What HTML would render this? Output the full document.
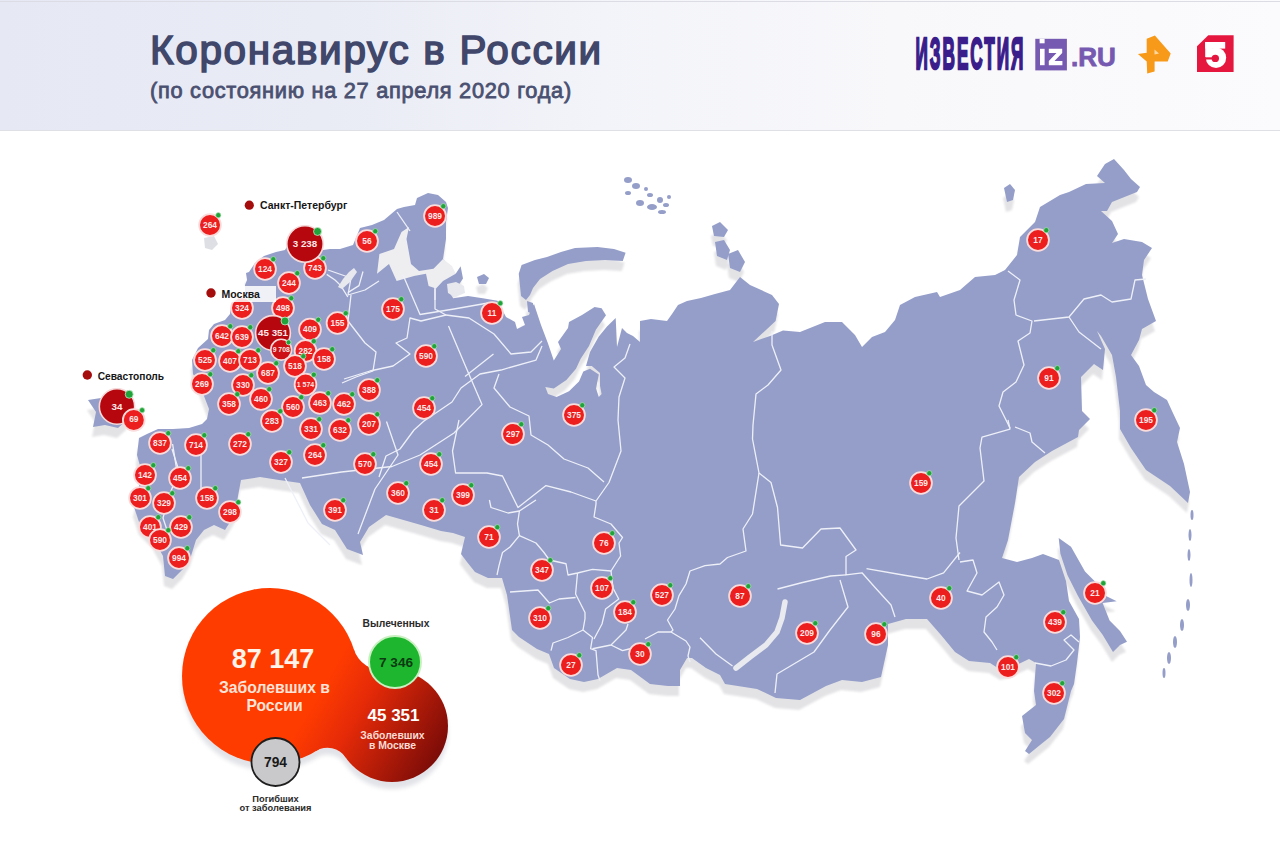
<!DOCTYPE html>
<html><head><meta charset="utf-8">
<style>
html,body{margin:0;padding:0;}
body{width:1280px;height:853px;overflow:hidden;position:relative;background:#fff;font-family:"Liberation Sans",sans-serif;}
#hdr{position:absolute;left:0;top:0;width:1280px;height:130px;background:linear-gradient(90deg,#e6e8f4 0%,#e9ebf5 25%,#f3f4f9 47%,#f8f8fb 70%,#fbfbfd 100%);border-bottom:1px solid #dfe0e6;}
.t1{position:absolute;left:150px;top:27px;font-size:40.5px;letter-spacing:1.65px;font-weight:normal;-webkit-text-stroke:1.5px #40476a;color:#40476a;white-space:nowrap;}
.t2{position:absolute;left:150px;top:78px;font-size:21.8px;letter-spacing:0.7px;font-weight:normal;-webkit-text-stroke:0.8px #4a5070;color:#4a5070;white-space:nowrap;}
svg text{font-family:"Liberation Sans",sans-serif;}
</style></head><body>
<div id="hdr"><div style="position:absolute;left:0;top:1px;width:1280px;height:1px;background:#dcdde4"></div><div class="t1">Коронавирус в России</div><div class="t2">(по состоянию на 27 апреля 2020 года)</div></div>
<svg width="1280" height="853" viewBox="0 0 1280 853" style="position:absolute;left:0;top:0">
<defs><filter id="sh" x="-5%" y="-5%" width="110%" height="120%"><feGaussianBlur stdDeviation="1"/></filter><filter id="sh2"><feGaussianBlur stdDeviation="2"/></filter><linearGradient id="bg" gradientUnits="userSpaceOnUse" x1="320" y1="690" x2="448" y2="765"><stop offset="0" stop-color="#ff3c00"/><stop offset="0.3" stop-color="#e52a08"/><stop offset="1" stop-color="#6e0808"/></linearGradient></defs>
<g fill="#e3e3e6" filter="url(#sh)" transform="translate(-1,10)"><polygon points="139,438 147,434 158,429 173,429 189,428 202,424 207,419 209,409 204,396 200,385 193,374 192,360 198,348 208,339 209,330 214,324 225,320 230,314 231,307 245,302 245,285 247,280 246,273 249,272 255,263 264,256 276,252 285,250 292,238 305,228 318,238 323,250 330,249 340,249 353,245 360,228 372,225 384,220 397,209 404,207 415,205 417,198 428,193 438,195 446,202 448,208 446,222 446,239 443,259 455.7,273.7 460.6,266.3 463,278.6 458,286 448.3,291 453.2,298.3 468,296 482.7,298.3 497.5,300.7 506,317 515,322 517,329 525,325 522,317 529,315 532,307 534,304 541,325 548,343.5 553.8,360.4 561,349 558,342 568,328 569,322 582,315 594.6,307 601.6,308.3 606,315.3 596,329.4 589,346 580.5,359 576,368.8 566.4,380 553.8,388.5 545.3,387 548,394 556.6,397 569,391.3 579,381.5 583.3,371.6 590,368.8 598.8,374.4 596,388.5 598.8,397 601.6,394 600,385.7 600,373 591.8,366 586,366 590,352 598.8,336.4 607,326.6 615.7,318 617,347 622,328 627,333 633,336 640,342 640,321 651,319 667,321 672,314 678,305 687,301 701,298 715,294 730,290 740,277 750,285 772,295 779,304 775.6,321 753,342 770,336 783,330.6 800,332 825,322 842,322 855,335 862,347 872,337 885,332 895,320 900,305 915,297 937,292 940,297 960,290 975,277 995,275 1005,270 1017,255 1020,237 1035,222 1040,207 1060,195 1069,192 1086,184 1105,183 1097,176 1105,164 1114,159 1124,170 1131,179 1140,187 1137,192 1127,196 1112,202 1107,211 1101,211 1112,221 1118,234 1112,243 1124,239 1142,242 1152,248 1144,260 1142,275 1148,299 1156,321 1142,329 1139,340 1131,355 1139,366 1146,385 1154,392 1167,400 1172,411 1180,428 1177,442 1184,464 1190,492 1188,503 1170,486 1146,470 1131,448 1120,429 1120,411 1116,377 1112,355 1101,336 1097,331 1105,349 1103,370 1094,364 1088,370 1081,377 1082,411 1090,419 1079,430 1078,437 1052,451 1035,462 1019,477 1015,503 1008,540 1002,558 1017,562 1032,558 1043,554 1059,560 1066,581 1069,601 1079,619 1080,637 1077,663 1074,684 1071,691 1064,719 1050,737 1040,745 1029,754 1025,751 1032,740 1025,733 1022,716 1036,705 1034,691 1036,663 1029,659 1010,668 1001,670 990,663 969,661 955,652 941,635 927,619 906,619 888,624 888,645 881,677 862,682 842,680 826,686 800,700 776,698 757,689 725,684 720,675 706,668 692,658 687,658 680,670 680,686 668,686 650,684 631,670 617,668 598,679 584,682 570,679 554,668 549,654 537,649 519,637 512,630 507,595 502,578 488,578 475,572 467,562 461,554 465,537 453,533 441,531 421,525 400,519 386,515 369,527 360,542 363,555 347,549 335,530 322,524 310,505 300,483 279,480 260,477 241,480 238,496 235,514 225,530 214,525 204,530 196,540 191,556 183,569 173,579 165,576 163,556 153,538 140,525 134,507 138,490 142,473 137,455"/>
<polygon points="518.75,273.75 521.6,265 535,260 547,257 561,252 575,248 597.5,247 614,249 625.6,252.7 622.8,261 605,260 586,261 568,264 552.5,271 540,279 533,288 530,295 526,300 521,296"/>
<polygon points="527,301 533,303 533,314 528,312"/>
<polygon points="477,277 484,274 489,278 486,284 479,284"/>
<polygon points="712,226 720,222 728,230 724,237 714,236"/>
<polygon points="715,242 724,240 730,250 727,260 717,256"/>
<polygon points="728,254 738,250 745,262 740,272 730,268"/>
<polygon points="1004,188 1010,184 1015,190 1013,200 1007,202"/>
<polygon points="1058.7,538 1071,546.8 1085,571.4 1099,585.5 1106,596 1116.7,601.3 1102.6,603 1109.6,620.6 1120,631 1127,641.7 1120,645 1113,652 1102.6,634.7 1092,620.6 1078,596 1067.4,575 1060.4,553.8"/>
<polygon points="88,400 101,398 112,393 124,396 130,405 127,420 118,428 105,425 93,427 96,412"/>
</g>
<g fill="#949ec9"><polygon points="139,438 147,434 158,429 173,429 189,428 202,424 207,419 209,409 204,396 200,385 193,374 192,360 198,348 208,339 209,330 214,324 225,320 230,314 231,307 245,302 245,285 247,280 246,273 249,272 255,263 264,256 276,252 285,250 292,238 305,228 318,238 323,250 330,249 340,249 353,245 360,228 372,225 384,220 397,209 404,207 415,205 417,198 428,193 438,195 446,202 448,208 446,222 446,239 443,259 455.7,273.7 460.6,266.3 463,278.6 458,286 448.3,291 453.2,298.3 468,296 482.7,298.3 497.5,300.7 506,317 515,322 517,329 525,325 522,317 529,315 532,307 534,304 541,325 548,343.5 553.8,360.4 561,349 558,342 568,328 569,322 582,315 594.6,307 601.6,308.3 606,315.3 596,329.4 589,346 580.5,359 576,368.8 566.4,380 553.8,388.5 545.3,387 548,394 556.6,397 569,391.3 579,381.5 583.3,371.6 590,368.8 598.8,374.4 596,388.5 598.8,397 601.6,394 600,385.7 600,373 591.8,366 586,366 590,352 598.8,336.4 607,326.6 615.7,318 617,347 622,328 627,333 633,336 640,342 640,321 651,319 667,321 672,314 678,305 687,301 701,298 715,294 730,290 740,277 750,285 772,295 779,304 775.6,321 753,342 770,336 783,330.6 800,332 825,322 842,322 855,335 862,347 872,337 885,332 895,320 900,305 915,297 937,292 940,297 960,290 975,277 995,275 1005,270 1017,255 1020,237 1035,222 1040,207 1060,195 1069,192 1086,184 1105,183 1097,176 1105,164 1114,159 1124,170 1131,179 1140,187 1137,192 1127,196 1112,202 1107,211 1101,211 1112,221 1118,234 1112,243 1124,239 1142,242 1152,248 1144,260 1142,275 1148,299 1156,321 1142,329 1139,340 1131,355 1139,366 1146,385 1154,392 1167,400 1172,411 1180,428 1177,442 1184,464 1190,492 1188,503 1170,486 1146,470 1131,448 1120,429 1120,411 1116,377 1112,355 1101,336 1097,331 1105,349 1103,370 1094,364 1088,370 1081,377 1082,411 1090,419 1079,430 1078,437 1052,451 1035,462 1019,477 1015,503 1008,540 1002,558 1017,562 1032,558 1043,554 1059,560 1066,581 1069,601 1079,619 1080,637 1077,663 1074,684 1071,691 1064,719 1050,737 1040,745 1029,754 1025,751 1032,740 1025,733 1022,716 1036,705 1034,691 1036,663 1029,659 1010,668 1001,670 990,663 969,661 955,652 941,635 927,619 906,619 888,624 888,645 881,677 862,682 842,680 826,686 800,700 776,698 757,689 725,684 720,675 706,668 692,658 687,658 680,670 680,686 668,686 650,684 631,670 617,668 598,679 584,682 570,679 554,668 549,654 537,649 519,637 512,630 507,595 502,578 488,578 475,572 467,562 461,554 465,537 453,533 441,531 421,525 400,519 386,515 369,527 360,542 363,555 347,549 335,530 322,524 310,505 300,483 279,480 260,477 241,480 238,496 235,514 225,530 214,525 204,530 196,540 191,556 183,569 173,579 165,576 163,556 153,538 140,525 134,507 138,490 142,473 137,455"/>
<polygon points="518.75,273.75 521.6,265 535,260 547,257 561,252 575,248 597.5,247 614,249 625.6,252.7 622.8,261 605,260 586,261 568,264 552.5,271 540,279 533,288 530,295 526,300 521,296"/>
<polygon points="527,301 533,303 533,314 528,312"/>
<polygon points="477,277 484,274 489,278 486,284 479,284"/>
<polygon points="712,226 720,222 728,230 724,237 714,236"/>
<polygon points="715,242 724,240 730,250 727,260 717,256"/>
<polygon points="728,254 738,250 745,262 740,272 730,268"/>
<polygon points="1004,188 1010,184 1015,190 1013,200 1007,202"/>
<polygon points="1058.7,538 1071,546.8 1085,571.4 1099,585.5 1106,596 1116.7,601.3 1102.6,603 1109.6,620.6 1120,631 1127,641.7 1120,645 1113,652 1102.6,634.7 1092,620.6 1078,596 1067.4,575 1060.4,553.8"/>
<polygon points="88,400 101,398 112,393 124,396 130,405 127,420 118,428 105,425 93,427 96,412"/>
<ellipse cx="628" cy="180" rx="4" ry="3"/>
<ellipse cx="636" cy="186" rx="4" ry="3"/>
<ellipse cx="650" cy="195" rx="3" ry="2"/>
<ellipse cx="660" cy="200" rx="3" ry="3"/>
<ellipse cx="666" cy="205" rx="3" ry="2"/>
<ellipse cx="640" cy="203" rx="4" ry="3"/>
<ellipse cx="652" cy="207" rx="5" ry="3"/>
<ellipse cx="662" cy="212" rx="4" ry="2"/>
<ellipse cx="628" cy="193" rx="3" ry="2"/>
<ellipse cx="669" cy="197" rx="2" ry="2"/>
<ellipse cx="646" cy="189" rx="2" ry="2"/>
<ellipse cx="1192" cy="515" rx="1.5" ry="5"/>
<ellipse cx="1190" cy="535" rx="1.5" ry="6"/>
<ellipse cx="1189" cy="555" rx="1.5" ry="6"/>
<ellipse cx="1191" cy="580" rx="1.5" ry="7"/>
<ellipse cx="1188" cy="605" rx="2" ry="6"/>
<ellipse cx="1182" cy="625" rx="2" ry="6"/>
<ellipse cx="1175" cy="642" rx="2" ry="6"/>
<ellipse cx="1169" cy="658" rx="2" ry="6"/>
<ellipse cx="1164" cy="673" rx="1.5" ry="5"/>
</g>
<polygon points="409,227 406.5,239 411,264 419,271 433.5,268.8 443,259 452,266 455.7,273.7 443,281 436,288.4 428.6,286 426,273.7 414,276 396.6,281 389,264 377,273.7 379.4,254 394,249 401.5,232" fill="#eeeef1"/>
<polyline points="785,602 782,618 777,632 766,645 750,657 736,668" fill="none" stroke="#e9eaef" stroke-width="5.5" stroke-linecap="round" stroke-linejoin="round"/>
<g fill="none" stroke="#eef0f8" stroke-width="1.3" stroke-linejoin="round"><polyline points="397,212 410,231"/><polyline points="328,270 351,278 348,295 365,290 379,281"/><polyline points="435,287 435,309 446,315 469,318 494,334 511,354 531,352 542,341"/><polyline points="446,315 421,321 410,318 407,338 396,343 410,354 393,366 370,371 344,379"/><polyline points="351,295 348,321 365,343 376,352 373,371 356,377 342,383"/><polyline points="542,346 536,360 501,370 480,374 461,388 452,402 424,421 414,430 400,449 386,456 379,477"/><polyline points="499,374 494,388 510,407 529,416 531,435 548,445 564,459 588,468 604,482"/><polyline points="630,344 625,358 614,367 625,378 619,397 618,420 621,451 609,482.5 596,501"/><polyline points="459,420 452.5,451 455.6,473 487,473 502.5,476 518,507.5 546,485.6 571,492 596,501"/><polyline points="772,331 772,345 781,370 768,385 756,394 753,425 752.5,439 759,473 771,482.5 777.5,507.5 780.6,545 802.5,548 821,529 840,528 856,550 846,556.5 846,574.8 862,572.8 874.6,587 891,605 895,617"/><polyline points="759,473 752.5,514 743,529 746,551 727.5,557.5 720,564 705,565.6 690,571 686,584 679,595.6 675,609 667.5,620 673,630 671,632"/><polyline points="777.5,589 802.5,582.5 830.6,576 846,574.8"/><polyline points="840,580 848,607 830,630 814,652 777,674 775,693"/><polyline points="866.5,568.7 903,575 927,579 943.6,572.8 960,552.5"/><polyline points="700,637.7 716,654 732.5,666"/><polyline points="1008,420 1010,429 982,437 980,448 984,481 959,506 956,538 959,560"/><polyline points="1008,271 1020,280 1014,300 1016,315 1032,321 1030,333 1018,341 1024,365 1016,382 1003,392 999,406 1010,428"/><polyline points="1034,321 1069,317 1084,299 1101,295 1112,302 1131,299 1135,280 1146,279"/><polyline points="1069,317 1079,332 1101,349"/><polyline points="1015,427 1030,433 1032,442 1045,453"/><polyline points="960,562 973,560 977,573 967,591 982,595 999,582 1004,595 997,607 986,617 984,632 992,642 997,650"/><polyline points="1035,663 1051,666 1066,660 1074,650 1064,640 1071,635 1079,642"/><polyline points="172,449 179,471 169,496 163,518 169,536"/><polyline points="489.4,500 491,507.5 508,513 519.4,511 536,500"/><polyline points="519.4,511 517.5,524 519.4,535.6 510,547 502.5,552.5 499,565.6 497,575"/><polyline points="519.4,535.6 536,543 544,552.5 549.4,560 566,563.75 568,575 577.5,573 592.5,569.4 611,571 620.6,556 619,543 622.5,537.5 611,524 594,517 596,504 596,501"/><polyline points="577.5,573 575.6,594 585,612.5 585,618.75 583,630 592.5,637.5 590.6,648.75 596,650.6 598,675 600,680.6"/><polyline points="510,592 538,590 549.4,603 559,599 575.6,597.5"/><polyline points="611,571 613,588 618.75,599 605.6,609 602,624 594,639"/><polyline points="551,650.6 553,643 568,637.5 583,630"/><polyline points="592.5,648.75 611,645 626,630 628,624"/><polyline points="611,645 622.5,650.6 630,648.75"/><polyline points="645,639 658,632 671,632 686,641 690,647 688,656 690,662"/><polyline points="326.7,274.4 335,280 340.8,285.6 347.8,297"/><polyline points="363,271.5 359,285.6 347.8,292.6"/><polyline points="435,288.4 435,300"/><polyline points="448.5,326 465,365 482,404.6 454,433 420,455 392,466.5 341.5,472 302,478"/><polyline points="493.5,354 465,376.5"/><polyline points="386.5,421.5 398,455 375,489 358,534"/><polyline points="285,478 308,523 330,545"/><polyline points="172.6,444 178,478"/><polyline points="201,455 201,506"/><polyline points="403,275 420,314.5 454,309 488,303"/></g>
<polygon points="204,238 214,236 218,244 212,250 205,248" fill="#dedfe4"/>
<polygon points="447,284 456,282 464,286 465,293 455,297 448,293" fill="#e8e9ee"/>
<polygon points="354,268 357,272 350,282 342,289 338,287 343,279 349,272" fill="#e8e9ee"/>
<circle cx="210" cy="225" r="10.9" fill="#ec1e1e" stroke="#fbdcdc" stroke-width="1.8"/>
<circle cx="218.3" cy="215.2" r="2.6" fill="#1fa33a" stroke="#c8ecc8" stroke-width="0.6"/>
<text x="210" y="227.9" font-size="8.4" text-anchor="middle" fill="#fde8e8" font-weight="bold">264</text>
<circle cx="367" cy="241" r="10.9" fill="#ec1e1e" stroke="#fbdcdc" stroke-width="1.8"/>
<circle cx="375.3" cy="231.2" r="2.6" fill="#1fa33a" stroke="#c8ecc8" stroke-width="0.6"/>
<text x="367" y="243.9" font-size="8.4" text-anchor="middle" fill="#fde8e8" font-weight="bold">56</text>
<circle cx="435" cy="216" r="10.9" fill="#ec1e1e" stroke="#fbdcdc" stroke-width="1.8"/>
<circle cx="443.3" cy="206.2" r="2.6" fill="#1fa33a" stroke="#c8ecc8" stroke-width="0.6"/>
<text x="435" y="218.9" font-size="8.4" text-anchor="middle" fill="#fde8e8" font-weight="bold">989</text>
<circle cx="315" cy="268" r="10.9" fill="#ec1e1e" stroke="#fbdcdc" stroke-width="1.8"/>
<circle cx="323.3" cy="258.2" r="2.6" fill="#1fa33a" stroke="#c8ecc8" stroke-width="0.6"/>
<text x="315" y="270.9" font-size="8.4" text-anchor="middle" fill="#fde8e8" font-weight="bold">743</text>
<circle cx="265" cy="269" r="10.9" fill="#ec1e1e" stroke="#fbdcdc" stroke-width="1.8"/>
<circle cx="273.3" cy="259.2" r="2.6" fill="#1fa33a" stroke="#c8ecc8" stroke-width="0.6"/>
<text x="265" y="271.9" font-size="8.4" text-anchor="middle" fill="#fde8e8" font-weight="bold">124</text>
<circle cx="289" cy="283" r="10.9" fill="#ec1e1e" stroke="#fbdcdc" stroke-width="1.8"/>
<circle cx="297.3" cy="273.2" r="2.6" fill="#1fa33a" stroke="#c8ecc8" stroke-width="0.6"/>
<text x="289" y="285.9" font-size="8.4" text-anchor="middle" fill="#fde8e8" font-weight="bold">244</text>
<circle cx="283" cy="308" r="10.9" fill="#ec1e1e" stroke="#fbdcdc" stroke-width="1.8"/>
<circle cx="291.3" cy="298.2" r="2.6" fill="#1fa33a" stroke="#c8ecc8" stroke-width="0.6"/>
<text x="283" y="310.9" font-size="8.4" text-anchor="middle" fill="#fde8e8" font-weight="bold">498</text>
<circle cx="242" cy="308" r="10.9" fill="#ec1e1e" stroke="#fbdcdc" stroke-width="1.8"/>
<circle cx="250.3" cy="298.2" r="2.6" fill="#1fa33a" stroke="#c8ecc8" stroke-width="0.6"/>
<text x="242" y="310.9" font-size="8.4" text-anchor="middle" fill="#fde8e8" font-weight="bold">324</text>
<circle cx="310" cy="329.5" r="10.9" fill="#ec1e1e" stroke="#fbdcdc" stroke-width="1.8"/>
<circle cx="318.3" cy="319.7" r="2.6" fill="#1fa33a" stroke="#c8ecc8" stroke-width="0.6"/>
<text x="310" y="332.4" font-size="8.4" text-anchor="middle" fill="#fde8e8" font-weight="bold">409</text>
<circle cx="337.5" cy="323" r="10.9" fill="#ec1e1e" stroke="#fbdcdc" stroke-width="1.8"/>
<circle cx="345.8" cy="313.2" r="2.6" fill="#1fa33a" stroke="#c8ecc8" stroke-width="0.6"/>
<text x="337.5" y="325.9" font-size="8.4" text-anchor="middle" fill="#fde8e8" font-weight="bold">155</text>
<circle cx="393" cy="309" r="10.9" fill="#ec1e1e" stroke="#fbdcdc" stroke-width="1.8"/>
<circle cx="401.3" cy="299.2" r="2.6" fill="#1fa33a" stroke="#c8ecc8" stroke-width="0.6"/>
<text x="393" y="311.9" font-size="8.4" text-anchor="middle" fill="#fde8e8" font-weight="bold">175</text>
<circle cx="492" cy="313" r="10.9" fill="#ec1e1e" stroke="#fbdcdc" stroke-width="1.8"/>
<circle cx="500.3" cy="303.2" r="2.6" fill="#1fa33a" stroke="#c8ecc8" stroke-width="0.6"/>
<text x="492" y="315.9" font-size="8.4" text-anchor="middle" fill="#fde8e8" font-weight="bold">11</text>
<circle cx="222" cy="336" r="10.9" fill="#ec1e1e" stroke="#fbdcdc" stroke-width="1.8"/>
<circle cx="230.3" cy="326.2" r="2.6" fill="#1fa33a" stroke="#c8ecc8" stroke-width="0.6"/>
<text x="222" y="338.9" font-size="8.4" text-anchor="middle" fill="#fde8e8" font-weight="bold">642</text>
<circle cx="242" cy="337" r="10.9" fill="#ec1e1e" stroke="#fbdcdc" stroke-width="1.8"/>
<circle cx="250.3" cy="327.2" r="2.6" fill="#1fa33a" stroke="#c8ecc8" stroke-width="0.6"/>
<text x="242" y="339.9" font-size="8.4" text-anchor="middle" fill="#fde8e8" font-weight="bold">639</text>
<circle cx="305.5" cy="351" r="10.9" fill="#ec1e1e" stroke="#fbdcdc" stroke-width="1.8"/>
<circle cx="313.8" cy="341.2" r="2.6" fill="#1fa33a" stroke="#c8ecc8" stroke-width="0.6"/>
<text x="305.5" y="353.9" font-size="8.4" text-anchor="middle" fill="#fde8e8" font-weight="bold">282</text>
<circle cx="324" cy="359" r="10.9" fill="#ec1e1e" stroke="#fbdcdc" stroke-width="1.8"/>
<circle cx="332.3" cy="349.2" r="2.6" fill="#1fa33a" stroke="#c8ecc8" stroke-width="0.6"/>
<text x="324" y="361.9" font-size="8.4" text-anchor="middle" fill="#fde8e8" font-weight="bold">158</text>
<circle cx="426" cy="356" r="10.9" fill="#ec1e1e" stroke="#fbdcdc" stroke-width="1.8"/>
<circle cx="434.3" cy="346.2" r="2.6" fill="#1fa33a" stroke="#c8ecc8" stroke-width="0.6"/>
<text x="426" y="358.9" font-size="8.4" text-anchor="middle" fill="#fde8e8" font-weight="bold">590</text>
<circle cx="205" cy="360" r="10.9" fill="#ec1e1e" stroke="#fbdcdc" stroke-width="1.8"/>
<circle cx="213.3" cy="350.2" r="2.6" fill="#1fa33a" stroke="#c8ecc8" stroke-width="0.6"/>
<text x="205" y="362.9" font-size="8.4" text-anchor="middle" fill="#fde8e8" font-weight="bold">525</text>
<circle cx="230" cy="361" r="10.9" fill="#ec1e1e" stroke="#fbdcdc" stroke-width="1.8"/>
<circle cx="238.3" cy="351.2" r="2.6" fill="#1fa33a" stroke="#c8ecc8" stroke-width="0.6"/>
<text x="230" y="363.9" font-size="8.4" text-anchor="middle" fill="#fde8e8" font-weight="bold">407</text>
<circle cx="250" cy="360" r="10.9" fill="#ec1e1e" stroke="#fbdcdc" stroke-width="1.8"/>
<circle cx="258.3" cy="350.2" r="2.6" fill="#1fa33a" stroke="#c8ecc8" stroke-width="0.6"/>
<text x="250" y="362.9" font-size="8.4" text-anchor="middle" fill="#fde8e8" font-weight="bold">713</text>
<circle cx="295" cy="366" r="10.9" fill="#ec1e1e" stroke="#fbdcdc" stroke-width="1.8"/>
<circle cx="303.3" cy="356.2" r="2.6" fill="#1fa33a" stroke="#c8ecc8" stroke-width="0.6"/>
<text x="295" y="368.9" font-size="8.4" text-anchor="middle" fill="#fde8e8" font-weight="bold">518</text>
<circle cx="268" cy="373" r="10.9" fill="#ec1e1e" stroke="#fbdcdc" stroke-width="1.8"/>
<circle cx="276.3" cy="363.2" r="2.6" fill="#1fa33a" stroke="#c8ecc8" stroke-width="0.6"/>
<text x="268" y="375.9" font-size="8.4" text-anchor="middle" fill="#fde8e8" font-weight="bold">687</text>
<circle cx="202" cy="384" r="10.9" fill="#ec1e1e" stroke="#fbdcdc" stroke-width="1.8"/>
<circle cx="210.3" cy="374.2" r="2.6" fill="#1fa33a" stroke="#c8ecc8" stroke-width="0.6"/>
<text x="202" y="386.9" font-size="8.4" text-anchor="middle" fill="#fde8e8" font-weight="bold">269</text>
<circle cx="243" cy="385" r="10.9" fill="#ec1e1e" stroke="#fbdcdc" stroke-width="1.8"/>
<circle cx="251.3" cy="375.2" r="2.6" fill="#1fa33a" stroke="#c8ecc8" stroke-width="0.6"/>
<text x="243" y="387.9" font-size="8.4" text-anchor="middle" fill="#fde8e8" font-weight="bold">330</text>
<circle cx="305.5" cy="384.5" r="10.9" fill="#ec1e1e" stroke="#fbdcdc" stroke-width="1.8"/>
<circle cx="313.8" cy="374.7" r="2.6" fill="#1fa33a" stroke="#c8ecc8" stroke-width="0.6"/>
<text x="305.5" y="387.4" font-size="7" text-anchor="middle" fill="#fde8e8" font-weight="bold">1 574</text>
<circle cx="369" cy="390" r="10.9" fill="#ec1e1e" stroke="#fbdcdc" stroke-width="1.8"/>
<circle cx="377.3" cy="380.2" r="2.6" fill="#1fa33a" stroke="#c8ecc8" stroke-width="0.6"/>
<text x="369" y="392.9" font-size="8.4" text-anchor="middle" fill="#fde8e8" font-weight="bold">388</text>
<circle cx="229" cy="404" r="10.9" fill="#ec1e1e" stroke="#fbdcdc" stroke-width="1.8"/>
<circle cx="237.3" cy="394.2" r="2.6" fill="#1fa33a" stroke="#c8ecc8" stroke-width="0.6"/>
<text x="229" y="406.9" font-size="8.4" text-anchor="middle" fill="#fde8e8" font-weight="bold">358</text>
<circle cx="261" cy="399" r="10.9" fill="#ec1e1e" stroke="#fbdcdc" stroke-width="1.8"/>
<circle cx="269.3" cy="389.2" r="2.6" fill="#1fa33a" stroke="#c8ecc8" stroke-width="0.6"/>
<text x="261" y="401.9" font-size="8.4" text-anchor="middle" fill="#fde8e8" font-weight="bold">460</text>
<circle cx="293" cy="407" r="10.9" fill="#ec1e1e" stroke="#fbdcdc" stroke-width="1.8"/>
<circle cx="301.3" cy="397.2" r="2.6" fill="#1fa33a" stroke="#c8ecc8" stroke-width="0.6"/>
<text x="293" y="409.9" font-size="8.4" text-anchor="middle" fill="#fde8e8" font-weight="bold">560</text>
<circle cx="320" cy="403" r="10.9" fill="#ec1e1e" stroke="#fbdcdc" stroke-width="1.8"/>
<circle cx="328.3" cy="393.2" r="2.6" fill="#1fa33a" stroke="#c8ecc8" stroke-width="0.6"/>
<text x="320" y="405.9" font-size="8.4" text-anchor="middle" fill="#fde8e8" font-weight="bold">463</text>
<circle cx="344" cy="404" r="10.9" fill="#ec1e1e" stroke="#fbdcdc" stroke-width="1.8"/>
<circle cx="352.3" cy="394.2" r="2.6" fill="#1fa33a" stroke="#c8ecc8" stroke-width="0.6"/>
<text x="344" y="406.9" font-size="8.4" text-anchor="middle" fill="#fde8e8" font-weight="bold">462</text>
<circle cx="424" cy="408" r="10.9" fill="#ec1e1e" stroke="#fbdcdc" stroke-width="1.8"/>
<circle cx="432.3" cy="398.2" r="2.6" fill="#1fa33a" stroke="#c8ecc8" stroke-width="0.6"/>
<text x="424" y="410.9" font-size="8.4" text-anchor="middle" fill="#fde8e8" font-weight="bold">454</text>
<circle cx="272" cy="421" r="10.9" fill="#ec1e1e" stroke="#fbdcdc" stroke-width="1.8"/>
<circle cx="280.3" cy="411.2" r="2.6" fill="#1fa33a" stroke="#c8ecc8" stroke-width="0.6"/>
<text x="272" y="423.9" font-size="8.4" text-anchor="middle" fill="#fde8e8" font-weight="bold">283</text>
<circle cx="311" cy="429" r="10.9" fill="#ec1e1e" stroke="#fbdcdc" stroke-width="1.8"/>
<circle cx="319.3" cy="419.2" r="2.6" fill="#1fa33a" stroke="#c8ecc8" stroke-width="0.6"/>
<text x="311" y="431.9" font-size="8.4" text-anchor="middle" fill="#fde8e8" font-weight="bold">331</text>
<circle cx="340" cy="430" r="10.9" fill="#ec1e1e" stroke="#fbdcdc" stroke-width="1.8"/>
<circle cx="348.3" cy="420.2" r="2.6" fill="#1fa33a" stroke="#c8ecc8" stroke-width="0.6"/>
<text x="340" y="432.9" font-size="8.4" text-anchor="middle" fill="#fde8e8" font-weight="bold">632</text>
<circle cx="369" cy="424" r="10.9" fill="#ec1e1e" stroke="#fbdcdc" stroke-width="1.8"/>
<circle cx="377.3" cy="414.2" r="2.6" fill="#1fa33a" stroke="#c8ecc8" stroke-width="0.6"/>
<text x="369" y="426.9" font-size="8.4" text-anchor="middle" fill="#fde8e8" font-weight="bold">207</text>
<circle cx="574" cy="415" r="10.9" fill="#ec1e1e" stroke="#fbdcdc" stroke-width="1.8"/>
<circle cx="582.3" cy="405.2" r="2.6" fill="#1fa33a" stroke="#c8ecc8" stroke-width="0.6"/>
<text x="574" y="417.9" font-size="8.4" text-anchor="middle" fill="#fde8e8" font-weight="bold">375</text>
<circle cx="1146" cy="420" r="10.9" fill="#ec1e1e" stroke="#fbdcdc" stroke-width="1.8"/>
<circle cx="1154.3" cy="410.2" r="2.6" fill="#1fa33a" stroke="#c8ecc8" stroke-width="0.6"/>
<text x="1146" y="422.9" font-size="8.4" text-anchor="middle" fill="#fde8e8" font-weight="bold">195</text>
<circle cx="1049" cy="378" r="10.9" fill="#ec1e1e" stroke="#fbdcdc" stroke-width="1.8"/>
<circle cx="1057.3" cy="368.2" r="2.6" fill="#1fa33a" stroke="#c8ecc8" stroke-width="0.6"/>
<text x="1049" y="380.9" font-size="8.4" text-anchor="middle" fill="#fde8e8" font-weight="bold">91</text>
<circle cx="1038" cy="240" r="10.9" fill="#ec1e1e" stroke="#fbdcdc" stroke-width="1.8"/>
<circle cx="1046.3" cy="230.2" r="2.6" fill="#1fa33a" stroke="#c8ecc8" stroke-width="0.6"/>
<text x="1038" y="242.9" font-size="8.4" text-anchor="middle" fill="#fde8e8" font-weight="bold">17</text>
<circle cx="160" cy="443" r="10.9" fill="#ec1e1e" stroke="#fbdcdc" stroke-width="1.8"/>
<circle cx="168.3" cy="433.2" r="2.6" fill="#1fa33a" stroke="#c8ecc8" stroke-width="0.6"/>
<text x="160" y="445.9" font-size="8.4" text-anchor="middle" fill="#fde8e8" font-weight="bold">837</text>
<circle cx="196" cy="445" r="10.9" fill="#ec1e1e" stroke="#fbdcdc" stroke-width="1.8"/>
<circle cx="204.3" cy="435.2" r="2.6" fill="#1fa33a" stroke="#c8ecc8" stroke-width="0.6"/>
<text x="196" y="447.9" font-size="8.4" text-anchor="middle" fill="#fde8e8" font-weight="bold">714</text>
<circle cx="240" cy="444" r="10.9" fill="#ec1e1e" stroke="#fbdcdc" stroke-width="1.8"/>
<circle cx="248.3" cy="434.2" r="2.6" fill="#1fa33a" stroke="#c8ecc8" stroke-width="0.6"/>
<text x="240" y="446.9" font-size="8.4" text-anchor="middle" fill="#fde8e8" font-weight="bold">272</text>
<circle cx="281" cy="462" r="10.9" fill="#ec1e1e" stroke="#fbdcdc" stroke-width="1.8"/>
<circle cx="289.3" cy="452.2" r="2.6" fill="#1fa33a" stroke="#c8ecc8" stroke-width="0.6"/>
<text x="281" y="464.9" font-size="8.4" text-anchor="middle" fill="#fde8e8" font-weight="bold">327</text>
<circle cx="315" cy="455" r="10.9" fill="#ec1e1e" stroke="#fbdcdc" stroke-width="1.8"/>
<circle cx="323.3" cy="445.2" r="2.6" fill="#1fa33a" stroke="#c8ecc8" stroke-width="0.6"/>
<text x="315" y="457.9" font-size="8.4" text-anchor="middle" fill="#fde8e8" font-weight="bold">264</text>
<circle cx="365" cy="464" r="10.9" fill="#ec1e1e" stroke="#fbdcdc" stroke-width="1.8"/>
<circle cx="373.3" cy="454.2" r="2.6" fill="#1fa33a" stroke="#c8ecc8" stroke-width="0.6"/>
<text x="365" y="466.9" font-size="8.4" text-anchor="middle" fill="#fde8e8" font-weight="bold">570</text>
<circle cx="431" cy="464" r="10.9" fill="#ec1e1e" stroke="#fbdcdc" stroke-width="1.8"/>
<circle cx="439.3" cy="454.2" r="2.6" fill="#1fa33a" stroke="#c8ecc8" stroke-width="0.6"/>
<text x="431" y="466.9" font-size="8.4" text-anchor="middle" fill="#fde8e8" font-weight="bold">454</text>
<circle cx="513" cy="434" r="10.9" fill="#ec1e1e" stroke="#fbdcdc" stroke-width="1.8"/>
<circle cx="521.3" cy="424.2" r="2.6" fill="#1fa33a" stroke="#c8ecc8" stroke-width="0.6"/>
<text x="513" y="436.9" font-size="8.4" text-anchor="middle" fill="#fde8e8" font-weight="bold">297</text>
<circle cx="921" cy="483" r="10.9" fill="#ec1e1e" stroke="#fbdcdc" stroke-width="1.8"/>
<circle cx="929.3" cy="473.2" r="2.6" fill="#1fa33a" stroke="#c8ecc8" stroke-width="0.6"/>
<text x="921" y="485.9" font-size="8.4" text-anchor="middle" fill="#fde8e8" font-weight="bold">159</text>
<circle cx="145" cy="475" r="10.9" fill="#ec1e1e" stroke="#fbdcdc" stroke-width="1.8"/>
<circle cx="153.3" cy="465.2" r="2.6" fill="#1fa33a" stroke="#c8ecc8" stroke-width="0.6"/>
<text x="145" y="477.9" font-size="8.4" text-anchor="middle" fill="#fde8e8" font-weight="bold">142</text>
<circle cx="180" cy="478" r="10.9" fill="#ec1e1e" stroke="#fbdcdc" stroke-width="1.8"/>
<circle cx="188.3" cy="468.2" r="2.6" fill="#1fa33a" stroke="#c8ecc8" stroke-width="0.6"/>
<text x="180" y="480.9" font-size="8.4" text-anchor="middle" fill="#fde8e8" font-weight="bold">454</text>
<circle cx="140" cy="498" r="10.9" fill="#ec1e1e" stroke="#fbdcdc" stroke-width="1.8"/>
<circle cx="148.3" cy="488.2" r="2.6" fill="#1fa33a" stroke="#c8ecc8" stroke-width="0.6"/>
<text x="140" y="500.9" font-size="8.4" text-anchor="middle" fill="#fde8e8" font-weight="bold">301</text>
<circle cx="164" cy="503" r="10.9" fill="#ec1e1e" stroke="#fbdcdc" stroke-width="1.8"/>
<circle cx="172.3" cy="493.2" r="2.6" fill="#1fa33a" stroke="#c8ecc8" stroke-width="0.6"/>
<text x="164" y="505.9" font-size="8.4" text-anchor="middle" fill="#fde8e8" font-weight="bold">329</text>
<circle cx="207" cy="498" r="10.9" fill="#ec1e1e" stroke="#fbdcdc" stroke-width="1.8"/>
<circle cx="215.3" cy="488.2" r="2.6" fill="#1fa33a" stroke="#c8ecc8" stroke-width="0.6"/>
<text x="207" y="500.9" font-size="8.4" text-anchor="middle" fill="#fde8e8" font-weight="bold">158</text>
<circle cx="230" cy="512" r="10.9" fill="#ec1e1e" stroke="#fbdcdc" stroke-width="1.8"/>
<circle cx="238.3" cy="502.2" r="2.6" fill="#1fa33a" stroke="#c8ecc8" stroke-width="0.6"/>
<text x="230" y="514.9" font-size="8.4" text-anchor="middle" fill="#fde8e8" font-weight="bold">298</text>
<circle cx="398" cy="493" r="10.9" fill="#ec1e1e" stroke="#fbdcdc" stroke-width="1.8"/>
<circle cx="406.3" cy="483.2" r="2.6" fill="#1fa33a" stroke="#c8ecc8" stroke-width="0.6"/>
<text x="398" y="495.9" font-size="8.4" text-anchor="middle" fill="#fde8e8" font-weight="bold">360</text>
<circle cx="463" cy="495" r="10.9" fill="#ec1e1e" stroke="#fbdcdc" stroke-width="1.8"/>
<circle cx="471.3" cy="485.2" r="2.6" fill="#1fa33a" stroke="#c8ecc8" stroke-width="0.6"/>
<text x="463" y="497.9" font-size="8.4" text-anchor="middle" fill="#fde8e8" font-weight="bold">399</text>
<circle cx="335" cy="510" r="10.9" fill="#ec1e1e" stroke="#fbdcdc" stroke-width="1.8"/>
<circle cx="343.3" cy="500.2" r="2.6" fill="#1fa33a" stroke="#c8ecc8" stroke-width="0.6"/>
<text x="335" y="512.9" font-size="8.4" text-anchor="middle" fill="#fde8e8" font-weight="bold">391</text>
<circle cx="434" cy="510" r="10.9" fill="#ec1e1e" stroke="#fbdcdc" stroke-width="1.8"/>
<circle cx="442.3" cy="500.2" r="2.6" fill="#1fa33a" stroke="#c8ecc8" stroke-width="0.6"/>
<text x="434" y="512.9" font-size="8.4" text-anchor="middle" fill="#fde8e8" font-weight="bold">31</text>
<circle cx="489" cy="537" r="10.9" fill="#ec1e1e" stroke="#fbdcdc" stroke-width="1.8"/>
<circle cx="497.3" cy="527.2" r="2.6" fill="#1fa33a" stroke="#c8ecc8" stroke-width="0.6"/>
<text x="489" y="539.9" font-size="8.4" text-anchor="middle" fill="#fde8e8" font-weight="bold">71</text>
<circle cx="604" cy="543" r="10.9" fill="#ec1e1e" stroke="#fbdcdc" stroke-width="1.8"/>
<circle cx="612.3" cy="533.2" r="2.6" fill="#1fa33a" stroke="#c8ecc8" stroke-width="0.6"/>
<text x="604" y="545.9" font-size="8.4" text-anchor="middle" fill="#fde8e8" font-weight="bold">76</text>
<circle cx="150" cy="527" r="10.9" fill="#ec1e1e" stroke="#fbdcdc" stroke-width="1.8"/>
<circle cx="158.3" cy="517.2" r="2.6" fill="#1fa33a" stroke="#c8ecc8" stroke-width="0.6"/>
<text x="150" y="529.9" font-size="8.4" text-anchor="middle" fill="#fde8e8" font-weight="bold">401</text>
<circle cx="181" cy="527" r="10.9" fill="#ec1e1e" stroke="#fbdcdc" stroke-width="1.8"/>
<circle cx="189.3" cy="517.2" r="2.6" fill="#1fa33a" stroke="#c8ecc8" stroke-width="0.6"/>
<text x="181" y="529.9" font-size="8.4" text-anchor="middle" fill="#fde8e8" font-weight="bold">429</text>
<circle cx="160" cy="540" r="10.9" fill="#ec1e1e" stroke="#fbdcdc" stroke-width="1.8"/>
<circle cx="168.3" cy="530.2" r="2.6" fill="#1fa33a" stroke="#c8ecc8" stroke-width="0.6"/>
<text x="160" y="542.9" font-size="8.4" text-anchor="middle" fill="#fde8e8" font-weight="bold">590</text>
<circle cx="179" cy="558" r="10.9" fill="#ec1e1e" stroke="#fbdcdc" stroke-width="1.8"/>
<circle cx="187.3" cy="548.2" r="2.6" fill="#1fa33a" stroke="#c8ecc8" stroke-width="0.6"/>
<text x="179" y="560.9" font-size="8.4" text-anchor="middle" fill="#fde8e8" font-weight="bold">994</text>
<circle cx="542" cy="570" r="10.9" fill="#ec1e1e" stroke="#fbdcdc" stroke-width="1.8"/>
<circle cx="550.3" cy="560.2" r="2.6" fill="#1fa33a" stroke="#c8ecc8" stroke-width="0.6"/>
<text x="542" y="572.9" font-size="8.4" text-anchor="middle" fill="#fde8e8" font-weight="bold">347</text>
<circle cx="602" cy="588" r="10.9" fill="#ec1e1e" stroke="#fbdcdc" stroke-width="1.8"/>
<circle cx="610.3" cy="578.2" r="2.6" fill="#1fa33a" stroke="#c8ecc8" stroke-width="0.6"/>
<text x="602" y="590.9" font-size="8.4" text-anchor="middle" fill="#fde8e8" font-weight="bold">107</text>
<circle cx="625" cy="612" r="10.9" fill="#ec1e1e" stroke="#fbdcdc" stroke-width="1.8"/>
<circle cx="633.3" cy="602.2" r="2.6" fill="#1fa33a" stroke="#c8ecc8" stroke-width="0.6"/>
<text x="625" y="614.9" font-size="8.4" text-anchor="middle" fill="#fde8e8" font-weight="bold">184</text>
<circle cx="662" cy="595" r="10.9" fill="#ec1e1e" stroke="#fbdcdc" stroke-width="1.8"/>
<circle cx="670.3" cy="585.2" r="2.6" fill="#1fa33a" stroke="#c8ecc8" stroke-width="0.6"/>
<text x="662" y="597.9" font-size="8.4" text-anchor="middle" fill="#fde8e8" font-weight="bold">527</text>
<circle cx="740" cy="596" r="10.9" fill="#ec1e1e" stroke="#fbdcdc" stroke-width="1.8"/>
<circle cx="748.3" cy="586.2" r="2.6" fill="#1fa33a" stroke="#c8ecc8" stroke-width="0.6"/>
<text x="740" y="598.9" font-size="8.4" text-anchor="middle" fill="#fde8e8" font-weight="bold">87</text>
<circle cx="941" cy="598" r="10.9" fill="#ec1e1e" stroke="#fbdcdc" stroke-width="1.8"/>
<circle cx="949.3" cy="588.2" r="2.6" fill="#1fa33a" stroke="#c8ecc8" stroke-width="0.6"/>
<text x="941" y="600.9" font-size="8.4" text-anchor="middle" fill="#fde8e8" font-weight="bold">40</text>
<circle cx="1095" cy="593" r="10.9" fill="#ec1e1e" stroke="#fbdcdc" stroke-width="1.8"/>
<circle cx="1103.3" cy="583.2" r="2.6" fill="#1fa33a" stroke="#c8ecc8" stroke-width="0.6"/>
<text x="1095" y="595.9" font-size="8.4" text-anchor="middle" fill="#fde8e8" font-weight="bold">21</text>
<circle cx="540" cy="618" r="10.9" fill="#ec1e1e" stroke="#fbdcdc" stroke-width="1.8"/>
<circle cx="548.3" cy="608.2" r="2.6" fill="#1fa33a" stroke="#c8ecc8" stroke-width="0.6"/>
<text x="540" y="620.9" font-size="8.4" text-anchor="middle" fill="#fde8e8" font-weight="bold">310</text>
<circle cx="807" cy="633" r="10.9" fill="#ec1e1e" stroke="#fbdcdc" stroke-width="1.8"/>
<circle cx="815.3" cy="623.2" r="2.6" fill="#1fa33a" stroke="#c8ecc8" stroke-width="0.6"/>
<text x="807" y="635.9" font-size="8.4" text-anchor="middle" fill="#fde8e8" font-weight="bold">209</text>
<circle cx="876" cy="634" r="10.9" fill="#ec1e1e" stroke="#fbdcdc" stroke-width="1.8"/>
<circle cx="884.3" cy="624.2" r="2.6" fill="#1fa33a" stroke="#c8ecc8" stroke-width="0.6"/>
<text x="876" y="636.9" font-size="8.4" text-anchor="middle" fill="#fde8e8" font-weight="bold">96</text>
<circle cx="1055" cy="622" r="10.9" fill="#ec1e1e" stroke="#fbdcdc" stroke-width="1.8"/>
<circle cx="1063.3" cy="612.2" r="2.6" fill="#1fa33a" stroke="#c8ecc8" stroke-width="0.6"/>
<text x="1055" y="624.9" font-size="8.4" text-anchor="middle" fill="#fde8e8" font-weight="bold">439</text>
<circle cx="571" cy="665" r="10.9" fill="#ec1e1e" stroke="#fbdcdc" stroke-width="1.8"/>
<circle cx="579.3" cy="655.2" r="2.6" fill="#1fa33a" stroke="#c8ecc8" stroke-width="0.6"/>
<text x="571" y="667.9" font-size="8.4" text-anchor="middle" fill="#fde8e8" font-weight="bold">27</text>
<circle cx="640" cy="654" r="10.9" fill="#ec1e1e" stroke="#fbdcdc" stroke-width="1.8"/>
<circle cx="648.3" cy="644.2" r="2.6" fill="#1fa33a" stroke="#c8ecc8" stroke-width="0.6"/>
<text x="640" y="656.9" font-size="8.4" text-anchor="middle" fill="#fde8e8" font-weight="bold">30</text>
<circle cx="1008" cy="667" r="10.9" fill="#ec1e1e" stroke="#fbdcdc" stroke-width="1.8"/>
<circle cx="1016.3" cy="657.2" r="2.6" fill="#1fa33a" stroke="#c8ecc8" stroke-width="0.6"/>
<text x="1008" y="669.9" font-size="8.4" text-anchor="middle" fill="#fde8e8" font-weight="bold">101</text>
<circle cx="1054" cy="693" r="10.9" fill="#ec1e1e" stroke="#fbdcdc" stroke-width="1.8"/>
<circle cx="1062.3" cy="683.2" r="2.6" fill="#1fa33a" stroke="#c8ecc8" stroke-width="0.6"/>
<text x="1054" y="695.9" font-size="8.4" text-anchor="middle" fill="#fde8e8" font-weight="bold">302</text>
<circle cx="305" cy="244" r="18.2" fill="#b5070d" stroke="#f6dada" stroke-width="1.6"/>
<circle cx="317.54" cy="231.46" r="4" fill="#1fa33a" stroke="#c8ecc8" stroke-width="0.8"/>
<text x="305" y="247.43" font-size="9.8" text-anchor="middle" fill="#fde8e8" font-weight="bold">3 238</text>
<circle cx="273" cy="333" r="17.4" fill="#b5070d" stroke="#f6dada" stroke-width="1.6"/>
<circle cx="285.012" cy="320.988" r="4" fill="#1fa33a" stroke="#c8ecc8" stroke-width="0.8"/>
<text x="273" y="336.43" font-size="9.8" text-anchor="middle" fill="#fde8e8" font-weight="bold">45 351</text>
<circle cx="117" cy="406.5" r="17.7" fill="#b5070d" stroke="#f6dada" stroke-width="1.6"/>
<circle cx="129.21" cy="394.29" r="4" fill="#1fa33a" stroke="#c8ecc8" stroke-width="0.8"/>
<text x="117" y="409.93" font-size="9.8" text-anchor="middle" fill="#fde8e8" font-weight="bold">34</text>
<circle cx="281.2" cy="349.7" r="10.399999999999999" fill="#cc1016" stroke="#f6dada" stroke-width="1.6"/>
<circle cx="288.592" cy="342.308" r="2.5" fill="#1fa33a" stroke="#c8ecc8" stroke-width="0.8"/>
<text x="281.2" y="352.08" font-size="6.8" text-anchor="middle" fill="#fde8e8" font-weight="bold">9 708</text>
<circle cx="133.8" cy="420" r="10.9" fill="#ec1e1e" stroke="#fbdcdc" stroke-width="1.8"/><circle cx="142.1" cy="410.2" r="2.6" fill="#1fa33a" stroke="#c8ecc8" stroke-width="0.6"/><text x="133.8" y="422.4" font-size="8.4" text-anchor="middle" fill="#fde8e8" font-weight="bold">69</text>
<rect x="190" y="286" width="86" height="16" fill="#ffffff" fill-opacity="0.85"/><circle cx="249.3" cy="205.2" r="4.6" fill="#a50d0d"/><text x="260" y="208.8" font-size="10.5" font-weight="bold" fill="#161616">Санкт-Петербург</text><circle cx="211" cy="293" r="4.7" fill="#a50d0d"/><text x="221.6" y="298" font-size="10.5" font-weight="bold" fill="#161616">Москва</text><circle cx="87.3" cy="375" r="4.7" fill="#a50d0d"/><text x="97.7" y="379.7" font-size="10.2" font-weight="bold" fill="#161616">Севастополь</text>
<g transform="translate(0,7)" fill="#e2e3e8" filter="url(#sh2)"><circle cx="270" cy="676" r="88"/><circle cx="392" cy="726" r="56"/><path d="M270.0,676.0 L316.0,751.0 A22,22 0 0,1 345.7,757.4 L392.0,726.0 L385.8,670.3 A30,30 0 0,1 353.9,649.5 Z"/></g><g fill="url(#bg)"><circle cx="270" cy="676" r="88"/><circle cx="392" cy="726" r="56"/><path d="M270.0,676.0 L316.0,751.0 A22,22 0 0,1 345.7,757.4 L392.0,726.0 L385.8,670.3 A30,30 0 0,1 353.9,649.5 Z"/></g><circle cx="395" cy="662" r="26" fill="#1eb62f" stroke="#c9f0c0" stroke-width="2"/><circle cx="275.5" cy="762" r="24" fill="#c9c9cb" stroke="#1e1e1e" stroke-width="1.8"/><text x="273" y="668" font-size="27" font-weight="bold" fill="#fff3ea" text-anchor="middle">87 147</text><text x="274.5" y="692.5" font-size="15.7" font-weight="bold" fill="#fde3d8" text-anchor="middle">Заболевших в</text><text x="274.5" y="710.5" font-size="15.7" font-weight="bold" fill="#fde3d8" text-anchor="middle">России</text><text x="393.5" y="721" font-size="17" font-weight="bold" fill="#fff" text-anchor="middle">45 351</text><text x="392.5" y="738.8" font-size="10.4" font-weight="bold" fill="#fbdcd4" text-anchor="middle">Заболевших</text><text x="392.5" y="748.7" font-size="10.4" font-weight="bold" fill="#fbdcd4" text-anchor="middle">в Москве</text><text x="396" y="626.5" font-size="10.3" font-weight="bold" fill="#2b2b2b" text-anchor="middle">Вылеченных</text><text x="396" y="667" font-size="13.6" font-weight="bold" fill="#0d3a12" text-anchor="middle">7 346</text><text x="275.5" y="767" font-size="13.8" font-weight="bold" fill="#1a1a1a" text-anchor="middle">794</text><text x="275.5" y="801.5" font-size="9.3" font-weight="bold" fill="#2b2b2b" text-anchor="middle">Погибших</text><text x="275.5" y="811" font-size="9.3" font-weight="bold" fill="#2b2b2b" text-anchor="middle">от заболевания</text>
<text x="915.5" y="69.4" font-size="43.5" font-weight="bold" fill="#3a1d8a" stroke="#3a1d8a" stroke-width="2.4" letter-spacing="5" transform="translate(915.5,0) scale(0.395,1) translate(-915.5,0)">ИЗВЕСТИЯ</text><rect x="1035.3" y="38.8" width="31.6" height="31.6" fill="#7659b0"/><rect x="1039.6" y="38.8" width="5" height="4.5" fill="#fff"/><rect x="1040" y="48.8" width="4.6" height="16.4" fill="#fff"/><path d="M1048.8,48.8 H1062.2 V53 L1054.5,61 H1062.4 V65.2 H1048.8 V61 L1056.5,53 H1048.8 Z" fill="#fff"/><text x="1071" y="65.7" font-size="26" font-weight="bold" fill="#7659b0" stroke="#7659b0" stroke-width="0.8">.RU</text><polygon points="1154.9,35.6 1146.7,38.8 1146.7,52.8 1137.9,54 1146.7,61.6 1147.2,73.4 1154.6,71.6 1154.6,61.6 1167.7,61.6 1170.7,53.4" fill="#f79a1a"/><polygon points="1154.5,49.5 1159,53.5 1154.5,54.5" fill="#fcd7a0"/><polygon points="1208.3,35.3 1233.6,35.3 1233.6,71.9 1197,71.9 1197,46.3" fill="#e5173f"/><rect x="1205.2" y="42" width="20" height="6.6" fill="#fff"/><rect x="1205.2" y="42" width="7.3" height="15" fill="#fff"/><circle cx="1216" cy="57.8" r="10.2" fill="#fff"/><circle cx="1215.3" cy="58.4" r="3.7" fill="#e5173f"/><rect x="1205.5" y="57.3" width="10" height="2.2" fill="#e5173f"/>
</svg>
</body></html>
